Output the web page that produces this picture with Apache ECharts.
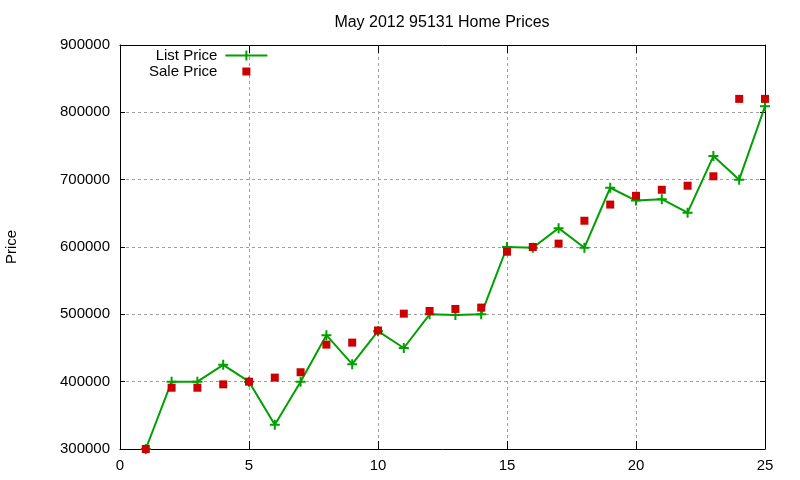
<!DOCTYPE html>
<html>
<head>
<meta charset="utf-8">
<script src="https://cdn.jsdelivr.net/npm/echarts@6/dist/echarts.min.js"></script>
<style>
  html, body { margin: 0; padding: 0; background: #fff; }
  #chart { width: 800px; height: 480px; }
</style>
</head>
<body>
<div id="chart"></div>
<script>
// month index (1..25)
const months = [1, 2, 3, 4, 5, 6, 7, 8, 9, 10, 11, 12, 13, 14, 15, 16, 17, 18, 19, 20, 21, 22, 23, 24, 25];

const listPrice = [300000, 400000, 400000, 425000, 400000, 336000, 400000, 469000, 426000, 475000,
  450000, 500000, 499000, 500000, 600000, 599000, 628000, 599000, 688000, 669000,
  671000, 651000, 735000, 700000, 809000];

const salePrice = [300000, 391000, 391000, 396000, 400000, 406000, 414000, 455000, 458000, 476000,
  501000, 505000, 508000, 510000, 593000, 600000, 605000, 639000, 663000, 676000,
  685000, 691000, 705000, 820000, 820000];

const xTicks = { min: 0, max: 25, interval: 5 };
const yTicks = { min: 300000, max: 900000, interval: 100000 };

const font = 'Liberation Sans, Arial, sans-serif';
const green = '#00a000';
const red = '#cc0000';
const gridColor = '#a0a0a0';

// plus marker (gnuplot pt 1)
const plusPath = 'path://M-1,-5L1,-5L1,-1L5,-1L5,1L1,1L1,5L-1,5L-1,1L-5,1L-5,-1L-1,-1Z';

const chart = echarts.init(document.getElementById('chart'));

const axisLine = { show: true, onZero: false, lineStyle: { color: '#000', width: 1 } };

const option = {
  animation: false,
  title: {
    text: 'May 2012 95131 Home Prices',
    left: 437,
    textAlign: 'center',
    top: 10,
    textStyle: { fontFamily: font, fontSize: 16, fontWeight: 'normal', color: '#000' },
  },
  legend: {
    orient: 'vertical',
    align: 'right',
    left: 149,
    top: 48,
    padding: 0,
    itemGap: 1,
    itemWidth: 45,
    itemHeight: 10,
    textStyle: { fontFamily: font, fontSize: 15, color: '#000' },
    data: [
      {
        name: 'List Price',
        icon: 'path://M0,0M3,4H45V6H3Z M23,0H25V10H23Z',
        itemStyle: { color: green, borderWidth: 0 },
      },
      {
        name: 'Sale Price',
        icon: 'path://M0,0M45,10M20,1H28V9H20Z',
        itemStyle: { color: red, borderWidth: 0 },
      },
    ],
  },
  grid: { left: 120, right: 35, top: 45, bottom: 31, containLabel: false, outerBoundsMode: 'none' },
  xAxis: [
    {
      type: 'value',
      min: xTicks.min,
      max: xTicks.max,
      interval: xTicks.interval,
      position: 'bottom',
      axisLine: axisLine,
      axisTick: { show: true, inside: true, length: 8, lineStyle: { color: '#000' } },
      axisLabel: { margin: 9, fontFamily: font, fontSize: 15, color: '#000' },
      splitLine: { show: true, lineStyle: { color: gridColor, type: [3, 3], width: 1 } },
    },
    {
      type: 'value',
      min: xTicks.min,
      max: xTicks.max,
      interval: xTicks.interval,
      position: 'top',
      axisLine: axisLine,
      axisTick: { show: true, inside: true, length: 8, lineStyle: { color: '#000' } },
      axisLabel: { show: false },
      splitLine: { show: false },
    },
  ],
  yAxis: [
    {
      type: 'value',
      min: yTicks.min,
      max: yTicks.max,
      interval: yTicks.interval,
      position: 'left',
      name: 'Price',
      nameLocation: 'middle',
      nameGap: 101,
      nameRotate: 90,
      nameTextStyle: { fontFamily: font, fontSize: 15, color: '#000' },
      axisLine: axisLine,
      axisTick: { show: true, inside: true, length: 5, lineStyle: { color: '#000' } },
      axisLabel: {
        margin: 10,
        fontFamily: font,
        fontSize: 15,
        color: '#000',
        formatter: (v) => String(v),
      },
      splitLine: { show: true, lineStyle: { color: gridColor, type: [3, 3], width: 1 } },
    },
    {
      type: 'value',
      min: yTicks.min,
      max: yTicks.max,
      interval: yTicks.interval,
      position: 'right',
      axisLine: axisLine,
      axisTick: { show: true, inside: true, length: 5, lineStyle: { color: '#000' } },
      axisLabel: { show: false },
      splitLine: { show: false },
    },
  ],
  series: [
    {
      name: 'List Price',
      type: 'line',
      xAxisIndex: 0,
      yAxisIndex: 0,
      data: months.map((m, i) => [m, listPrice[i]]),
      symbol: plusPath,
      symbolSize: 10,
      showAllSymbol: true,
      lineStyle: { color: green, width: 2 },
      itemStyle: { color: green, borderWidth: 0 },
      z: 3,
    },
    {
      name: 'Sale Price',
      type: 'scatter',
      xAxisIndex: 0,
      yAxisIndex: 0,
      data: months.map((m, i) => [m, salePrice[i]]),
      symbol: 'rect',
      symbolSize: 8,
      itemStyle: { color: red, borderWidth: 0, opacity: 1 },
      z: 4,
    },
  ],
};

chart.setOption(option);
</script>
</body>
</html>
